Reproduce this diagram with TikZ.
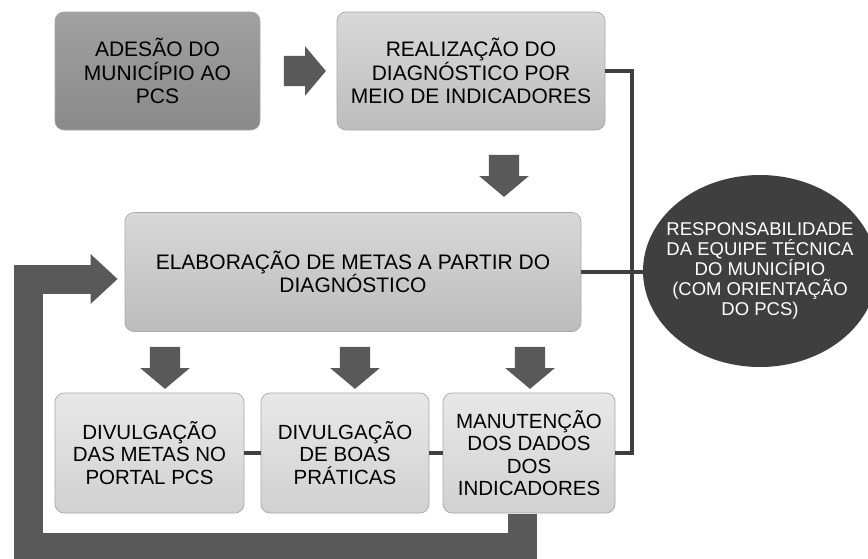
\documentclass[tikz,border=0pt]{standalone}
\usepackage{fontspec}
\setmainfont{Liberation Sans}
\usetikzlibrary{arrows.meta, calc, positioning, shapes.geometric, shapes.arrows}
\setlength{\lineskiplimit}{-30pt}

\definecolor{arrowgray}{HTML}{595959}
\definecolor{linkgray}{HTML}{3F3F3F}
\definecolor{boxedge}{HTML}{A8A8A8}

\begin{document}
\begin{tikzpicture}[x=1pt, y=-1pt, >=Latex,
    box/.style={rounded corners=9pt, draw=boxedge, line width=0.7pt, align=center, inner sep=0pt,
        font=\fontsize{21}{23.5}\selectfont},
    darkbox/.style={box, top color=black!37, bottom color=black!46},
    lightbox/.style={box, top color=black!15, bottom color=black!26},
    smallbox/.style={box, top color=black!9, bottom color=black!18, minimum height=120pt,
        font=\fontsize{20.5}{22.5}\selectfont},
    blockarrow/.style={single arrow, fill=arrowgray, draw=none, inner xsep=0pt, inner ysep=15pt,
        minimum height=42pt, single arrow head extend=9.5pt, single arrow tip angle=100},
    downarrow/.style={blockarrow, shape border rotate=270, inner xsep=15pt, inner ysep=0pt},
    link/.style={draw=linkgray, line width=4pt},
    loopback/.style={draw=arrowgray, line width=29pt, -{Triangle[width=48pt, length=27pt]}}]

        \useasboundingbox (0,0) rectangle (868,558);

        % top row
        \node[darkbox, minimum width=205pt, minimum height=118pt] (adesao) at (157.5,71) {ADESÃO DO\\MUNICÍPIO AO\\PCS};
        \node[lightbox, minimum width=268pt, minimum height=118pt] (diag) at (471,71) {REALIZAÇÃO DO\\DIAGNÓSTICO POR\\MEIO DE INDICADORES};
        \node[blockarrow] (arr1) at ($(adesao.east)!0.5!(diag.west)$) {};

        % middle row
        \node[lightbox, minimum width=456pt, minimum height=119pt] (metas) at (353,272) {ELABORAÇÃO DE METAS A PARTIR DO\\DIAGNÓSTICO};
        \node[downarrow] (arr2) at (504,169.5) {};

        \node[ellipse, fill=linkgray, text=white, minimum width=234pt, minimum height=192pt,
            inner xsep=-11pt, inner ysep=0pt,
            font=\fontsize{18.5}{20}\selectfont, align=center] (equipe) at (760,271)
            {RESPONSABILIDADE\\DA EQUIPE TÉCNICA\\DO MUNICÍPIO\\(COM ORIENTAÇÃO\\DO PCS)};

        % bottom row
        \node[smallbox, minimum width=189pt] (portal) at (149.5,453) {DIVULGAÇÃO\\DAS METAS NO\\PORTAL PCS};
        \node[smallbox, minimum width=168pt] (praticas) at (345,453) {DIVULGAÇÃO\\DE BOAS\\PRÁTICAS};
        \node[smallbox, minimum width=172pt] (dados) at (529,453) {MANUTENÇÃO\\DOS DADOS\\DOS\\INDICADORES};

        \node[downarrow] (arr3) at (165,361.5) {};
        \node[downarrow] (arr4) at (355,361.5) {};
        \node[downarrow] (arr5) at (530,361.5) {};

        % links to the team
        \coordinate (bus) at (632,0);
        \draw[link] (diag.east) -| (bus |- dados.east) -- (dados.east);
        \draw[link] (metas.east) -- (metas.east -| equipe.west);
        \draw[link] (portal.east) -- (praticas.west);
        \draw[link] (praticas.east) -- (dados.west);

        % feedback loop
        \coordinate (loopstart) at (522,514);
        \draw[loopback] (loopstart) -- ++(0,33) -| (28,279) -- ([xshift=-7pt, yshift=-7pt]metas.west);

\end{tikzpicture}
\end{document}
